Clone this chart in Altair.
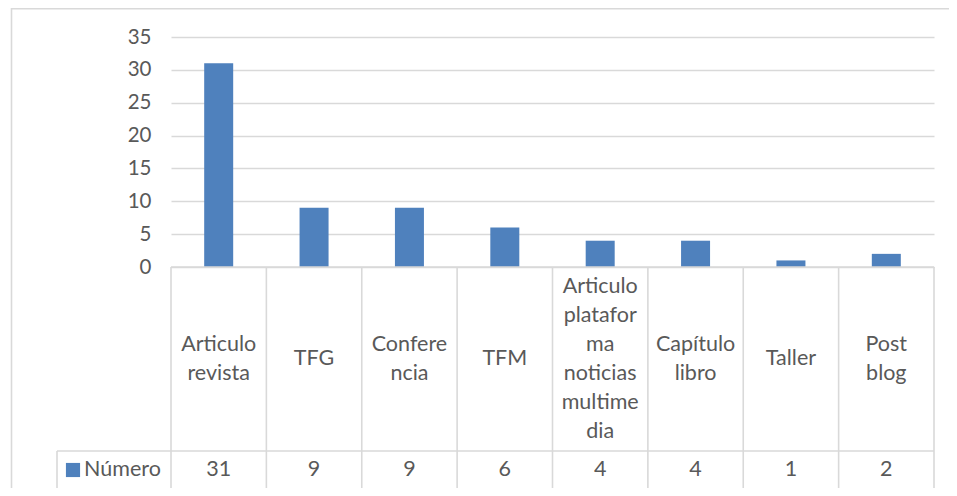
import altair as alt
import pandas as pd

# ---- data ----
categories = ["Articulo revista", "TFG", "Conferencia", "TFM",
              "Articulo plataforma noticias multimedia", "Capítulo libro",
              "Taller", "Post blog"]
wrapped_labels = ["Articulo\nrevista", "TFG", "Confere\nncia", "TFM",
                  "Articulo\nplatafor\nma\nnoticias\nmultime\ndia",
                  "Capítulo\nlibro", "Taller", "Post\nblog"]
values = [31, 9, 9, 6, 4, 4, 1, 2]
series_name = ["Número"]
y_ticks = [0, 5, 10, 15, 20, 25, 30, 35]

df = pd.DataFrame({"cat": categories, "label": wrapped_labels, "value": values})
one = pd.DataFrame({"name": series_name})

# ---- style ----
W, H = 763, 230
FONT = "Lato"
GREY = "#595959"
LINE = "#d9d9d9"
BLUE = "#4f81bd"
TABLE_BOTTOM = 452
ROW_SPLIT = 414
LEFT_CELL = -114
LINE_H = 29
TFS = 21.5

xenc = alt.X("cat:N", sort=categories,
             scale=alt.Scale(paddingInner=0, paddingOuter=0), axis=None)

base = alt.Chart(df)

bars = base.mark_bar(width=29, color=BLUE).encode(
    x=xenc,
    y=alt.Y("value:Q",
            scale=alt.Scale(domain=[0, 35], nice=False),
            axis=alt.Axis(values=y_ticks, title=None, domain=False, ticks=False,
                          labelPadding=20, labelFont=FONT, labelFontSize=20.5,
                          labelColor=GREY, gridColor=LINE, gridWidth=1.3)),
)

vlines = base.mark_rule(color=LINE, strokeWidth=1.6).encode(
    x=alt.X("cat:N", sort=categories, bandPosition=0, axis=None),
    y=alt.value(H), y2=alt.value(TABLE_BOTTOM),
)

vline_last = alt.Chart(df.tail(1)).mark_rule(color=LINE, strokeWidth=1.6).encode(
    x=alt.X("cat:N", sort=categories, bandPosition=1, axis=None),
    y=alt.value(H), y2=alt.value(TABLE_BOTTOM),
)

hline_top = alt.Chart(one).mark_rule(color=LINE, strokeWidth=1.6).encode(
    x=alt.value(0), x2=alt.value(W), y=alt.value(H))
hline_mid = alt.Chart(one).mark_rule(color=LINE, strokeWidth=1.6).encode(
    x=alt.value(LEFT_CELL), x2=alt.value(W), y=alt.value(ROW_SPLIT))
hline_bot = alt.Chart(one).mark_rule(color=LINE, strokeWidth=1.6).encode(
    x=alt.value(LEFT_CELL), x2=alt.value(W), y=alt.value(TABLE_BOTTOM))
vline_left = alt.Chart(one).mark_rule(color=LINE, strokeWidth=1.6).encode(
    x=alt.value(LEFT_CELL), y=alt.value(ROW_SPLIT), y2=alt.value(TABLE_BOTTOM))

labels = base.transform_calculate(
    off=f"-(length(split(datum.label, '\\n')) - 1) * {LINE_H / 2}"
).mark_text(font=FONT, fontSize=TFS, color=GREY, lineBreak="\n",
            lineHeight=LINE_H, baseline="middle").encode(
    x=xenc, y=alt.value(322),
    yOffset=alt.YOffset("off:Q", scale=None),
    text="label:N")

vals = base.mark_text(font=FONT, fontSize=TFS, color=GREY, baseline="middle").encode(
    x=xenc, y=alt.value(433), text="value:Q")

legend_sq = alt.Chart(one).mark_square(color=BLUE, size=200, opacity=1).encode(
    x=alt.value(-98), y=alt.value(433))
legend_txt = alt.Chart(one).mark_text(font=FONT, fontSize=TFS, color=GREY,
                                      align="left", baseline="middle").encode(
    x=alt.value(-87), y=alt.value(433), text="name:N")

frame = alt.Chart(one).mark_rect(fillOpacity=0, stroke=LINE, strokeWidth=1.6).encode(
    x=alt.value(-159.5), x2=alt.value(900), y=alt.value(-28.3), y2=alt.value(500))

chart = alt.layer(
    frame, bars, vlines, vline_last, hline_top, hline_mid, hline_bot, vline_left,
    labels, vals, legend_sq, legend_txt
).properties(
    width=W, height=H,
    padding={"left": 163, "top": 29, "right": 15, "bottom": 221},
    autosize=alt.AutoSizeParams(type="none"),
).configure_view(strokeWidth=0)

chart.save("out.html", embed_options={"renderer": "svg", "actions": False})
